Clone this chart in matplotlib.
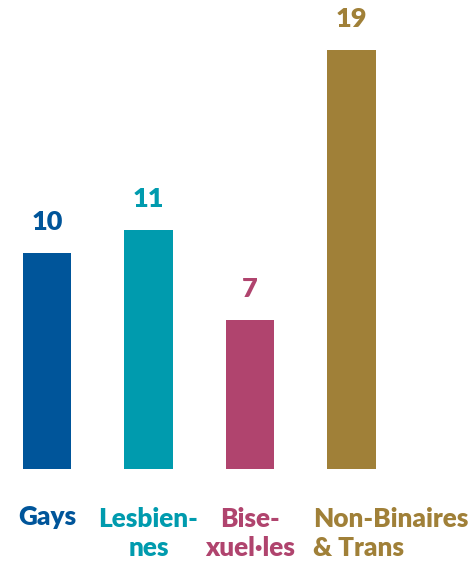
import matplotlib
matplotlib.use("Agg")
import matplotlib.pyplot as plt

categories = ["Gays", "Lesbien-\nnes", "Bise-\nxuel·les", "Non-Binaires\n& Trans"]
values = [10, 11, 7, 19]
colors = ["#00559A", "#009BAE", "#B0446E", "#A08038"]

plt.rcParams['font.family'] = ['Lato', 'DejaVu Sans']

fig = plt.figure(figsize=(4.75, 5.62), dpi=100)
ax = fig.add_axes([0, 93/562, 1, 469/562])
x = list(range(len(values)))
bars = ax.bar(x, values, width=0.478, color=colors)
ax.set_xlim(-0.463, 4.217)
ax.set_ylim(0.378, 0.378 + 469/22.5)
ax.axis('off')

for xi, v, c in zip(x, values, colors):
    ax.annotate(str(v), (xi, v), xytext=(0, 16.5), textcoords='offset points',
                ha='center', va='baseline', fontsize=19.5, fontweight='heavy', color=c)

for xi, lab, c in zip(x, categories, colors):
    nlines = lab.count("\n") + 1
    first_base = 56 * 0.72  # px -> pt
    off = -(first_base + (nlines - 1) * 31 * 0.72)
    left = xi == len(values) - 1
    ax.annotate(lab, (xi - 0.38 if left else xi, 0.378), xytext=(0, off),
                textcoords='offset points',
                ha='left' if left else 'center', va='baseline', fontsize=18.8,
                fontweight='heavy', color=c,
                multialignment='left' if left else 'center',
                linespacing=1.25, annotation_clip=False)

fig.savefig("out.png", dpi=100)
